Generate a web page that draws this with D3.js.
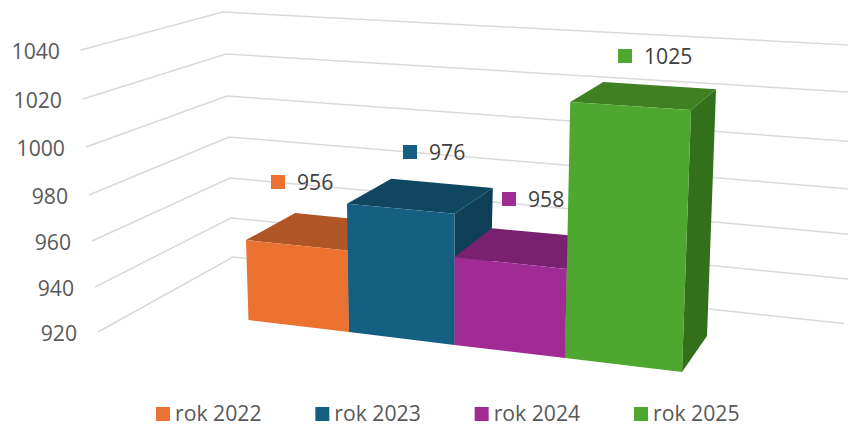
<!DOCTYPE html>
<html>
<head>
<meta charset="utf-8">
<script src="https://cdn.jsdelivr.net/npm/d3@7"></script>
<style>
  html, body { margin: 0; padding: 0; background: #fff; overflow: hidden; }
  text { font-family: "Open Sans", sans-serif; font-size: 21.2px; }
</style>
</head>
<body>
<svg width="848" height="425"></svg>
<script>
const categories = ["rok 2022", "rok 2023", "rok 2024", "rok 2025"];
const values = [956, 976, 958, 1025];
const tickValues = [920, 940, 960, 980, 1000, 1020, 1040];

const frontColors = ["#EB7231", "#156082", "#A02B93", "#4EA72E"];
const topColors = ["#B05626", "#0F4761", "#7A2070", "#3F8022"];
const sideColors = ["#A04E22", "#0E3F56", "#6A1C60", "#33701C"];

var svg = d3.select("svg");
var bands = [0, 1, 2, 3, 4];
var base = 920;

// the 3d look: every bar edge has a foot position, a height per unit and a lean per unit
var front = {
    x: d3.scaleLinear().domain(bands).range([248.5, 349, 454.5, 565, 682]),
    y: d3.scaleLinear().domain(bands).range([320, 332, 345, 358, 372]),
    unit: d3.scaleLinear().domain(bands).range([2.17, 2.21, 2.26, 2.283, 2.336]),
    lean: d3.scaleLinear().domain(bands).range([-0.07, -0.036, 0, 0.05, 0.086])
};
var back = {
    x: d3.scaleLinear().domain(bands).range([297, 393, 490, 597, 707]),
    y: d3.scaleLinear().domain(bands).range([288.5, 299, 310, 321, 336]),
    unit: d3.scaleLinear().domain(bands).range([2.05, 2.07, 2.1, 2.13, 2.2]),
    lean: d3.scaleLinear().domain(bands).range([-0.05, -0.03, 0.05, 0.06, 0.086])
};

// perspective stretches the higher values a little
var rise = function(v) {
    return (v - base) * (1 + 0.00065 * (v - base));
};

var project = function(plane, i, v) {
    return [plane.x(i) + plane.lean(i) * (v - base), plane.y(i) - plane.unit(i) * rise(v)];
};

// walls: left end, back corner and right end of each gridline
var wall = {
    leftX: d3.scaleLinear().domain(tickValues).range([98, 95, 92, 89, 86, 83, 81]),
    leftY: d3.scaleLinear().domain(tickValues).range([332, 287, 241, 195, 147, 99, 50]),
    cornerX: d3.scaleLinear().domain(tickValues).range([233, 231, 230, 229, 227, 226, 223]),
    cornerY: d3.scaleLinear().domain(tickValues).range([257, 218, 178, 137, 96, 54, 12]),
    rightX: d3.scaleLinear().domain(tickValues).range([844, 848, 852, 856, 860, 865, 868]),
    rightY: d3.scaleLinear().domain(tickValues).range([323.6, 279, 234.5, 189.5, 142, 93, 46])
};

var line = d3.line();

svg.append("g").selectAll("path").data(tickValues).join("path")
    .attr("d", d => line([
        [wall.leftX(d), wall.leftY(d)],
        [wall.cornerX(d), wall.cornerY(d)],
        [wall.rightX(d), wall.rightY(d)]
    ]))
    .attr("fill", "none")
    .attr("stroke", "#D9D9D9")
    .attr("stroke-width", 1.5);

svg.append("g").selectAll("text").data(tickValues).join("text")
    .attr("x", d => wall.leftX(d) - 21)
    .attr("y", d => wall.leftY(d) + 1.5)
    .attr("dy", "0.35em")
    .attr("text-anchor", "end")
    .attr("fill", "#595959")
    .text(d => d);

var bars = svg.append("g").selectAll("g").data(values).join("g");

bars.append("path")
    .attr("fill", (d, i) => sideColors[i])
    .attr("d", (d, i) => line([
        project(front, i + 1, d),
        project(back, i + 1, d),
        project(back, i + 1, base),
        project(front, i + 1, base)
    ]) + "Z");

bars.append("path")
    .attr("fill", (d, i) => topColors[i])
    .attr("d", (d, i) => line([
        project(front, i, d),
        project(back, i, d),
        project(back, i + 1, d),
        project(front, i + 1, d)
    ]) + "Z");

bars.append("path")
    .attr("fill", (d, i) => frontColors[i])
    .attr("d", (d, i) => line([
        project(front, i, d),
        project(front, i + 1, d),
        project(front, i + 1, base),
        project(front, i, base)
    ]) + "Z");

// data labels float above the top of each bar, key square first
var labelX = [271, 403, 502, 618];
var labelY = [182, 152, 199, 56];

var labels = svg.append("g").selectAll("g").data(values).join("g")
    .attr("transform", (d, i) => "translate(" + labelX[i] + "," + labelY[i] + ")");

labels.append("rect")
    .attr("y", -7).attr("width", 14).attr("height", 14)
    .attr("fill", (d, i) => frontColors[i]);

labels.append("text")
    .attr("x", 26)
    .attr("y", 0.5)
    .attr("dy", "0.35em")
    .attr("fill", "#404040")
    .text(d => d);

var legendX = d3.scalePoint().domain(categories).range([156, 634]);

var legend = svg.append("g").selectAll("g").data(categories).join("g")
    .attr("transform", d => "translate(" + legendX(d) + ",407)");

legend.append("rect")
    .attr("width", 14).attr("height", 14)
    .attr("fill", (d, i) => frontColors[i]);

legend.append("text")
    .attr("x", 19)
    .attr("y", 14)
    .attr("fill", "#595959")
    .text(d => d);
</script>
</body>
</html>
